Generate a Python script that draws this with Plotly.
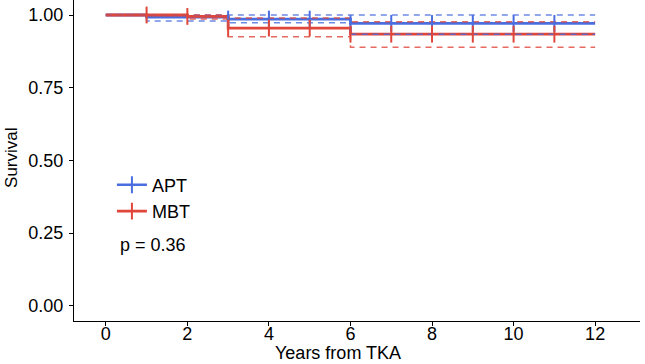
import numpy as np
import plotly.graph_objects as go

# ---- data ----
apt_time = [0, 1, 3, 6, 12]
apt_surv = [1.0, 0.993, 0.986, 0.971, 0.971]
apt_upper = [1.0, 1.0, 1.0, 1.0, 1.0]
apt_lower = [1.0, 0.979, 0.973, 0.934, 0.934]
apt_censor = [3, 4, 5, 6, 7, 8, 9, 10, 11]

mbt_time = [0, 2, 3, 6, 12]
mbt_surv = [1.0, 0.995, 0.955, 0.934, 0.934]
mbt_upper = [1.0, 1.0, 0.99, 0.977, 0.977]
mbt_lower = [1.0, 0.986, 0.925, 0.889, 0.889]
mbt_censor = [1, 2, 3, 4, 5, 6, 7, 8, 9, 10, 11]

x_ticks = [0, 2, 4, 6, 8, 10, 12]
y_ticks = [0.0, 0.25, 0.5, 0.75, 1.0]
p_text = "p = 0.36"

BLUE = "#4A6EE0"
RED = "#E0463A"
FONT = "Liberation Sans, Arial, sans-serif"


def step_at(times, vals, t):
    idx = np.searchsorted(np.array(times), t, side="right") - 1
    return [vals[i] for i in idx]


fig = go.Figure()

# solid survival curves
for name, t, s, c in [("APT", apt_time, apt_surv, BLUE), ("MBT", mbt_time, mbt_surv, RED)]:
    fig.add_trace(go.Scatter(x=t, y=s, mode="lines", line=dict(color=c, width=2.8, shape="hv"),
                             showlegend=False, hoverinfo="skip"))

# confidence interval steps (dashed)
for t, u, l, c in [(apt_time, apt_upper, apt_lower, BLUE), (mbt_time, mbt_upper, mbt_lower, RED)]:
    for band in (u, l):
        fig.add_trace(go.Scatter(x=t, y=band, mode="lines", opacity=0.8,
                                 line=dict(color=c, width=1.5, dash="6px,5px", shape="hv"),
                                 showlegend=False, hoverinfo="skip"))

# censor marks
for name, t, s, cens, c in [("APT", apt_time, apt_surv, apt_censor, BLUE),
                            ("MBT", mbt_time, mbt_surv, mbt_censor, RED)]:
    fig.add_trace(go.Scatter(x=cens, y=step_at(t, s, cens), mode="markers",
                             marker=dict(symbol="line-ns-open", size=12, color=c,
                                         line=dict(color=c, width=2)),
                             showlegend=False, hoverinfo="skip"))

# legend entries
for name, c in [("APT", BLUE), ("MBT", RED)]:
    fig.add_trace(go.Scatter(x=[None], y=[None], mode="lines+markers", name=name,
                             line=dict(color=c, width=2.6),
                             marker=dict(symbol="line-ns-open", size=12, color=c,
                                         line=dict(color=c, width=2))))

fig.add_annotation(x=0.3, y=0.209, xref="x", yref="y", text=p_text, showarrow=False,
                   xanchor="left", yanchor="middle", font=dict(size=18, color="black", family=FONT))
fig.add_annotation(x=5.7, y=-0.0997, xref="x", yref="paper", text="Years from TKA", showarrow=False,
                   xanchor="center", yanchor="middle", font=dict(size=18, color="black", family=FONT))
fig.add_annotation(x=-0.1095, y=0.508, xref="paper", yref="paper", text="Survival", showarrow=False,
                   textangle=-90, xanchor="center", yanchor="middle",
                   font=dict(size=17, color="black", family=FONT))

fig.update_layout(
    width=645, height=364,
    margin=dict(l=74, r=5, t=0, b=43, autoexpand=False),
    paper_bgcolor="white", plot_bgcolor="white",
    font=dict(family=FONT, size=17, color="black"),
    legend=dict(x=0.067, y=0.383, xanchor="left", yanchor="middle",
                bgcolor="rgba(0,0,0,0)", font=dict(size=18, family=FONT),
                itemwidth=30, tracegroupgap=2),
    showlegend=True,
)
fig.update_xaxes(range=[-0.78, 13.1], tickvals=x_ticks, ticktext=[str(v) for v in x_ticks],
                 showline=True, linecolor="black", linewidth=1, ticks="outside", ticklen=4,
                 tickcolor="black", showgrid=False, zeroline=False, automargin=False,
                 ticklabelstandoff=-8,
                 tickfont=dict(size=18, color="black"))
fig.update_yaxes(range=[-0.0526, 1.0516], tickvals=y_ticks, ticktext=[f"{v:.2f}" for v in y_ticks],
                 showline=True, linecolor="black", linewidth=1, ticks="outside", ticklen=4,
                 tickcolor="black", showgrid=False, zeroline=False, automargin=False,
                 ticklabelstandoff=2,
                 tickfont=dict(size=18, color="black"))

fig.write_html("out.html", config={"displayModeBar": False},
               post_script="document.body.style.margin='0';")
